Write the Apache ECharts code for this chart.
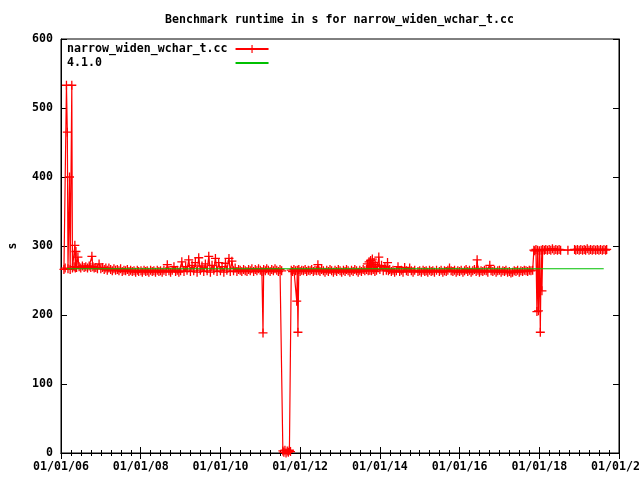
<!DOCTYPE html>
<html>
<head>
<meta charset="utf-8">
<script src="https://cdn.jsdelivr.net/npm/echarts@6/dist/echarts.min.js"></script>
<style>html,body{margin:0;padding:0;background:#fff}#c{width:640px;height:480px}</style>
</head>
<body>
<div id="c"></div>
<script>
// ---------- data (date, runtime in s) ----------
const titleText = 'Benchmark runtime in s for narrow_widen_wchar_t.cc';
const seriesNames = ['narrow_widen_wchar_t.cc', '4.1.0'];
const xTickYears = [2006, 2008, 2010, 2012, 2014, 2016, 2018, 2020];
const yTicks = [0, 100, 200, 300, 400, 500, 600];

const run2006 = [['2006-01-28',266],['2006-02-08',268],['2006-02-20',533],['2006-02-28',465],['2006-03-06',267],['2006-03-20',400],['2006-03-26',266],['2006-04-10',533],['2006-04-16',268],['2006-05-01',270],['2006-05-08',301],['2006-05-12',268],['2006-05-18',292],['2006-05-24',269],['2006-06-05',284],['2006-06-16',270],['2006-07-01',268],['2006-07-16',271],['2006-08-01',269],['2006-08-16',270],['2006-09-01',268],['2006-09-16',271],['2006-10-01',269],['2006-10-11',285],['2006-10-20',270],['2006-11-01',268],['2006-11-16',269],['2006-12-01',267],['2006-12-16',274]];
const run2007 = [['2007-01-01',267],['2007-01-16',269],['2007-02-01',266],['2007-02-16',268],['2007-03-01',265],['2007-03-16',268],['2007-04-01',266],['2007-04-16',264],['2007-05-01',267],['2007-05-16',265],['2007-06-01',266],['2007-06-16',264],['2007-07-01',267],['2007-07-16',263],['2007-08-01',265],['2007-08-16',264],['2007-09-01',266],['2007-09-16',263],['2007-10-01',265],['2007-10-16',263],['2007-11-01',264],['2007-11-16',262],['2007-12-01',265],['2007-12-14',263]];
const run2008 = [['2008-01-04',264],['2008-01-16',262],['2008-02-01',265],['2008-02-16',263],['2008-03-01',264],['2008-03-16',262],['2008-04-01',265],['2008-04-16',263],['2008-05-01',264],['2008-05-16',262],['2008-06-01',265],['2008-06-16',263],['2008-07-01',264],['2008-07-16',262],['2008-08-01',265],['2008-08-20',263],['2008-09-01',273],['2008-09-16',264],['2008-10-01',262],['2008-10-16',265],['2008-11-01',270],['2008-11-16',263],['2008-12-01',265],['2008-12-16',262]];
const run2009 = [['2009-01-01',264],['2009-01-12',277],['2009-02-01',263],['2009-02-16',270],['2009-03-01',265],['2009-03-16',280],['2009-04-01',263],['2009-04-16',272],['2009-05-01',264],['2009-05-16',276],['2009-06-01',262],['2009-06-16',283],['2009-07-01',265],['2009-07-16',271],['2009-08-01',263],['2009-08-16',274],['2009-09-01',264],['2009-09-16',285],['2009-10-01',262],['2009-10-16',272],['2009-11-01',265],['2009-11-16',282],['2009-12-01',263],['2009-12-16',276]];
const run2010 = [['2010-01-01',264],['2010-01-16',270],['2010-02-01',262],['2010-02-16',275],['2010-03-01',265],['2010-03-20',282],['2010-04-01',263],['2010-04-16',278],['2010-05-01',264],['2010-05-16',268],['2010-06-01',263],['2010-06-16',266],['2010-07-01',265],['2010-07-16',263],['2010-08-01',266],['2010-08-16',264],['2010-09-01',263],['2010-09-16',266],['2010-10-01',264],['2010-10-16',267],['2010-11-01',263],['2010-11-16',266],['2010-12-01',264],['2010-12-16',267]];
const run2011 = [['2011-01-01',265],['2011-01-16',263],['2011-01-26',174],['2011-02-01',266],['2011-02-16',264],['2011-03-01',267],['2011-03-16',265],['2011-04-01',263],['2011-04-16',266],['2011-05-01',264],['2011-05-16',267],['2011-06-01',265],['2011-06-16',263],['2011-07-01',266],['2011-07-16',264],['2011-07-27',3],['2011-08-05',1],['2011-08-15',4],['2011-08-25',0],['2011-09-05',3],['2011-09-15',1],['2011-09-25',4],['2011-10-05',2],['2011-10-12',265],['2011-10-24',263],['2011-11-05',266],['2011-11-20',264],['2011-12-01',220],['2011-12-06',265],['2011-12-12',175],['2011-12-20',266]];
const run2012 = [['2012-01-01',263],['2012-01-16',265],['2012-02-01',264],['2012-02-16',266],['2012-03-01',263],['2012-03-16',265],['2012-04-01',264],['2012-04-16',266],['2012-05-01',263],['2012-05-16',265],['2012-06-01',264],['2012-06-12',273],['2012-06-20',265],['2012-07-01',263],['2012-07-16',266],['2012-08-01',264],['2012-08-16',262],['2012-09-01',265],['2012-09-16',263],['2012-10-01',266],['2012-10-16',264],['2012-11-01',262],['2012-11-16',265],['2012-12-01',263],['2012-12-16',266]];
const run2013 = [['2013-01-01',264],['2013-01-16',262],['2013-02-01',265],['2013-02-16',263],['2013-03-01',266],['2013-03-16',264],['2013-04-01',262],['2013-04-16',265],['2013-05-01',263],['2013-05-16',266],['2013-06-01',264],['2013-06-16',262],['2013-07-01',265],['2013-07-16',263],['2013-08-01',266],['2013-08-16',264],['2013-09-01',266],['2013-09-08',274],['2013-09-16',264],['2013-09-24',277],['2013-10-01',265],['2013-10-08',279],['2013-10-16',264],['2013-10-24',281],['2013-11-01',266],['2013-11-08',276],['2013-11-16',263],['2013-11-24',273],['2013-12-01',265],['2013-12-10',270],['2013-12-22',284]];
const run2014 = [['2014-01-01',266],['2014-01-16',272],['2014-02-01',264],['2014-02-16',270],['2014-03-01',265],['2014-03-12',276],['2014-03-20',264],['2014-04-01',266],['2014-04-16',263],['2014-05-01',265],['2014-05-16',262],['2014-06-01',264],['2014-06-16',270],['2014-07-01',263],['2014-07-16',265],['2014-08-01',262],['2014-08-16',269],['2014-09-01',264],['2014-09-16',263],['2014-10-01',268],['2014-10-16',264],['2014-11-01',262],['2014-11-16',265],['2014-12-16',263]];
const run2015 = [['2015-01-01',264],['2015-01-16',262],['2015-02-01',265],['2015-02-16',263],['2015-03-01',264],['2015-03-16',262],['2015-04-01',265],['2015-04-16',263],['2015-05-01',264],['2015-05-16',262],['2015-06-04',265],['2015-06-30',263],['2015-07-16',265],['2015-08-01',262],['2015-08-16',264],['2015-09-01',263],['2015-09-16',265],['2015-10-01',268],['2015-10-16',264],['2015-11-01',263],['2015-11-16',265],['2015-12-01',262],['2015-12-16',264]];
const run2016 = [['2016-01-01',263],['2016-01-16',265],['2016-02-01',262],['2016-02-16',264],['2016-03-01',266],['2016-03-16',263],['2016-04-01',265],['2016-04-16',262],['2016-05-01',264],['2016-05-16',266],['2016-06-01',263],['2016-06-10',280],['2016-06-18',265],['2016-07-01',262],['2016-07-16',264],['2016-08-01',263],['2016-08-16',265],['2016-09-01',264],['2016-09-16',262],['2016-10-04',272],['2016-10-16',264],['2016-11-01',263],['2016-11-16',265],['2016-12-01',262],['2016-12-16',264]];
const run2017 = [['2017-01-01',265],['2017-01-16',262],['2017-02-01',264],['2017-02-16',263],['2017-03-01',265],['2017-03-16',262],['2017-04-01',263],['2017-04-16',261],['2017-05-01',262],['2017-05-16',264],['2017-06-01',263],['2017-06-16',265],['2017-07-01',262],['2017-07-16',264],['2017-08-01',263],['2017-08-16',265],['2017-09-01',264],['2017-09-16',263],['2017-10-01',265],['2017-10-16',264],['2017-11-01',265],['2017-11-12',294],['2017-11-20',293],['2017-12-01',295],['2017-12-10',205],['2017-12-16',294],['2017-12-24',206]];
const run2018 = [['2018-01-01',293],['2018-01-10',175],['2018-01-18',294],['2018-01-25',235],['2018-02-01',295],['2018-02-16',294],['2018-03-01',295],['2018-03-16',294],['2018-04-01',295],['2018-04-16',294],['2018-05-01',296],['2018-05-16',294],['2018-06-01',295],['2018-06-16',294],['2018-07-01',295],['2018-07-15',294],['2018-09-20',294],['2018-11-20',295],['2018-12-01',294],['2018-12-16',295]];
const run2019 = [['2019-01-01',294],['2019-01-16',295],['2019-02-01',294],['2019-02-16',295],['2019-03-01',294],['2019-03-16',296],['2019-04-01',294],['2019-04-16',295],['2019-05-01',294],['2019-05-16',295],['2019-06-01',294],['2019-06-16',295],['2019-07-01',294],['2019-07-16',295],['2019-08-01',294],['2019-08-16',295],['2019-09-01',294],['2019-09-10',295]];

// reference (4.1.0) runtime
const refDates = ['2006-02-24', '2019-08-14'];
const refSeconds = [267, 267];

// ---------- build ----------
const toPoint = d => [Date.parse(d[0]), d[1]];
const runtime = [].concat(run2006, run2007, run2008, run2009, run2010, run2011, run2012,
  run2013, run2014, run2015, run2016, run2017, run2018, run2019).map(toPoint);
const reference = refDates.map((d, i) => [Date.parse(d), refSeconds[i]]);

const FONT = 'DejaVu Sans Mono';
const txt = {fontFamily: FONT, fontWeight: 'bold', fontSize: 11.6, color: '#000'};
const BLACK = {color: '#000', width: 1};
const YEAR2 = 2 * 365.25 * 86400000;
const xMin = Date.UTC(xTickYears[0], 0, 1);
const xMax = Date.UTC(xTickYears[xTickYears.length - 1], 0, 1);
const pad = n => (n < 10 ? '0' : '') + n;
const fmtDate = v => { const d = new Date(v); return pad(d.getUTCMonth() + 1) + '/' + pad(d.getUTCDate()) + '/' + pad(d.getUTCFullYear() % 100); };
const PLUS = 'path://M3.85,0H5.15V3.85H9V5.15H5.15V9H3.85V5.15H0V3.85H3.85Z';
const maxLen = Math.max(...seriesNames.map(s => s.length));

const chart = echarts.init(document.getElementById('c'), null, {renderer: 'canvas'});
chart.setOption({
  animation: false,
  backgroundColor: '#fff',
  title: {text: titleText, left: 165, top: 14, padding: 0, textStyle: txt},
  grid: {left: 61, right: 21, top: 39, bottom: 27, show: true, borderColor: '#000', borderWidth: 1,
         backgroundColor: 'transparent', containLabel: false, outerBoundsMode: 'none'},
  legend: {
    left: 67, top: 43, orient: 'vertical', align: 'right', padding: 0,
    itemWidth: 33, itemHeight: 10, itemGap: 2,
    textStyle: Object.assign({}, txt, {lineHeight: 12, padding: [0, 3, 0, 0]}),
    formatter: name => name.padEnd(maxLen, ' '),
    data: [{name: seriesNames[0]}, {name: seriesNames[1], itemStyle: {opacity: 0}}],
    selectedMode: false
  },
  xAxis: [{
    type: 'value', min: xMin, max: xMax, interval: YEAR2,
    axisLine: {lineStyle: BLACK}, splitLine: {show: false},
    axisTick: {inside: true, length: 6, lineStyle: BLACK},
    minorTick: {show: true, splitNumber: 8, length: 3, lineStyle: BLACK},
    axisLabel: Object.assign({}, txt, {margin: 8, formatter: fmtDate, hideOverlap: false})
  }, {
    type: 'value', position: 'top', min: xMin, max: xMax, interval: YEAR2,
    axisLine: {lineStyle: BLACK}, splitLine: {show: false},
    axisTick: {inside: true, length: 6, lineStyle: BLACK},
    minorTick: {show: true, splitNumber: 8, length: 3, lineStyle: BLACK},
    axisLabel: {show: false}
  }],
  yAxis: [{
    type: 'value', min: yTicks[0], max: yTicks[yTicks.length - 1], interval: 100,
    name: 's', nameLocation: 'middle', nameGap: 42, nameRotate: 90, nameTextStyle: txt,
    axisLine: {show: true, lineStyle: BLACK}, splitLine: {show: false},
    axisTick: {show: true, inside: true, length: 6, lineStyle: BLACK},
    axisLabel: Object.assign({}, txt, {margin: 8})
  }, {
    type: 'value', position: 'right', min: yTicks[0], max: yTicks[yTicks.length - 1], interval: 100,
    axisLine: {show: true, lineStyle: BLACK}, splitLine: {show: false},
    axisTick: {show: true, inside: true, length: 6, lineStyle: BLACK},
    axisLabel: {show: false}
  }],
  series: [{
    name: seriesNames[0], type: 'line', data: runtime,
    symbol: PLUS, symbolSize: 9, showSymbol: true, showAllSymbol: true,
    lineStyle: {color: '#ff0000', width: 1.2}, itemStyle: {color: '#ff0000', borderWidth: 0},
    emphasis: {disabled: true}, silent: true, z: 2
  }, {
    name: seriesNames[1], type: 'line', data: reference, symbol: 'none',
    lineStyle: {color: '#00c000', width: 1.2}, itemStyle: {color: '#00c000'},
    emphasis: {disabled: true}, silent: true, z: 3
  }]
});
</script>
</body>
</html>
